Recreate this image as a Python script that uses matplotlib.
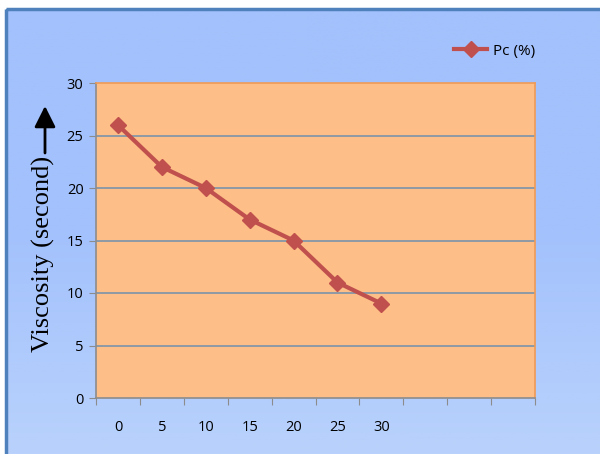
import numpy as np
import matplotlib.pyplot as plt
from matplotlib.patches import Rectangle, FancyArrowPatch
from matplotlib.colors import LinearSegmentedColormap

# Data: viscosity readings against Pc (%)
categories = ['0', '5', '10', '15', '20', '25', '30']
viscosity = [26, 22, 20, 17, 15, 11, 9]
n_slots = 10          # category axis has room for 10 slots
y_ticks = [0, 5, 10, 15, 20, 25, 30]

C_TOP = '#A3C1FC'
C_BOTTOM = '#B9D2FC'
C_PLOT = '#FDBF87'
C_LINE = '#C0504D'
C_GRID = '#8497A8'
C_BORDER = '#4F81BD'

fig = plt.figure(figsize=(6, 4.54), dpi=100, facecolor='white')

# chart-area gradient background with blue frame
bg = fig.add_axes([0, 0, 1, 1], zorder=0)
bg.set_xlim(0, 600)
bg.set_ylim(454, 0)
bg.axis('off')
grad = np.linspace(0, 1, 256).reshape(-1, 1)
cmap = LinearSegmentedColormap.from_list('bgblue', [C_TOP, C_TOP, C_BOTTOM])
bg.imshow(grad, cmap=cmap, aspect='auto', extent=[6, 600, 454, 9], zorder=0)
bg.add_patch(Rectangle((6, 9), 600, 460, fill=False, edgecolor=C_BORDER, linewidth=2.5, zorder=1))

# y-axis title with arrow
bg.text(43, 254, 'Viscosity (second)', rotation=90, ha='center', va='center',
        fontsize=19, family='Liberation Serif', color='black')
bg.add_patch(FancyArrowPatch((45, 153), (45, 106), arrowstyle='-|>,head_length=0.8,head_width=0.4',
                             mutation_scale=16, color='black', linewidth=2, shrinkA=0, shrinkB=0))

ax = fig.add_axes([96 / 600, 1 - 398 / 454, (535 - 96) / 600, (398 - 83) / 454], zorder=2)
ax.set_facecolor(C_PLOT)
x = np.arange(len(categories)) + 0.5
ax.set_xlim(0, n_slots)
ax.set_ylim(0, 30)

for yv in y_ticks[1:-1]:
    ax.axhline(yv, color=C_GRID, linewidth=1.3, zorder=1)

ax.plot(x, viscosity, color=C_LINE, linewidth=3, marker='D', markersize=8,
        label='Pc (%)', zorder=3)

ax.set_yticks(y_ticks)
ax.set_xticks(np.arange(n_slots + 1), minor=False)
ax.set_xticklabels([])
ax.set_xticks(x, minor=True)
ax.set_xticklabels(categories, minor=True)
ax.tick_params(axis='x', which='major', length=5, color='#8C8C8C', direction='out')
ax.tick_params(axis='x', which='minor', length=0, pad=16, labelsize=10.5)
ax.tick_params(axis='y', length=5, color='#8C8C8C', labelsize=10.5, pad=4)
for lab in ax.get_xticklabels(minor=True) + ax.get_yticklabels():
    lab.set_family('Open Sans')
    lab.set_color('black')

for side in ['top', 'right']:
    ax.spines[side].set_color('#F09A55')
    ax.spines[side].set_linewidth(1.2)
for side in ['left', 'bottom']:
    ax.spines[side].set_color('#8C8C8C')
    ax.spines[side].set_linewidth(1.2)

fig.legend(loc='center left', bbox_to_anchor=(440 / 600, 1 - 51 / 454), frameon=False,
           handlelength=2.2, handletextpad=0.4, prop={'family': 'Open Sans', 'size': 11})

fig.savefig('out.png', dpi=100, facecolor='white')
